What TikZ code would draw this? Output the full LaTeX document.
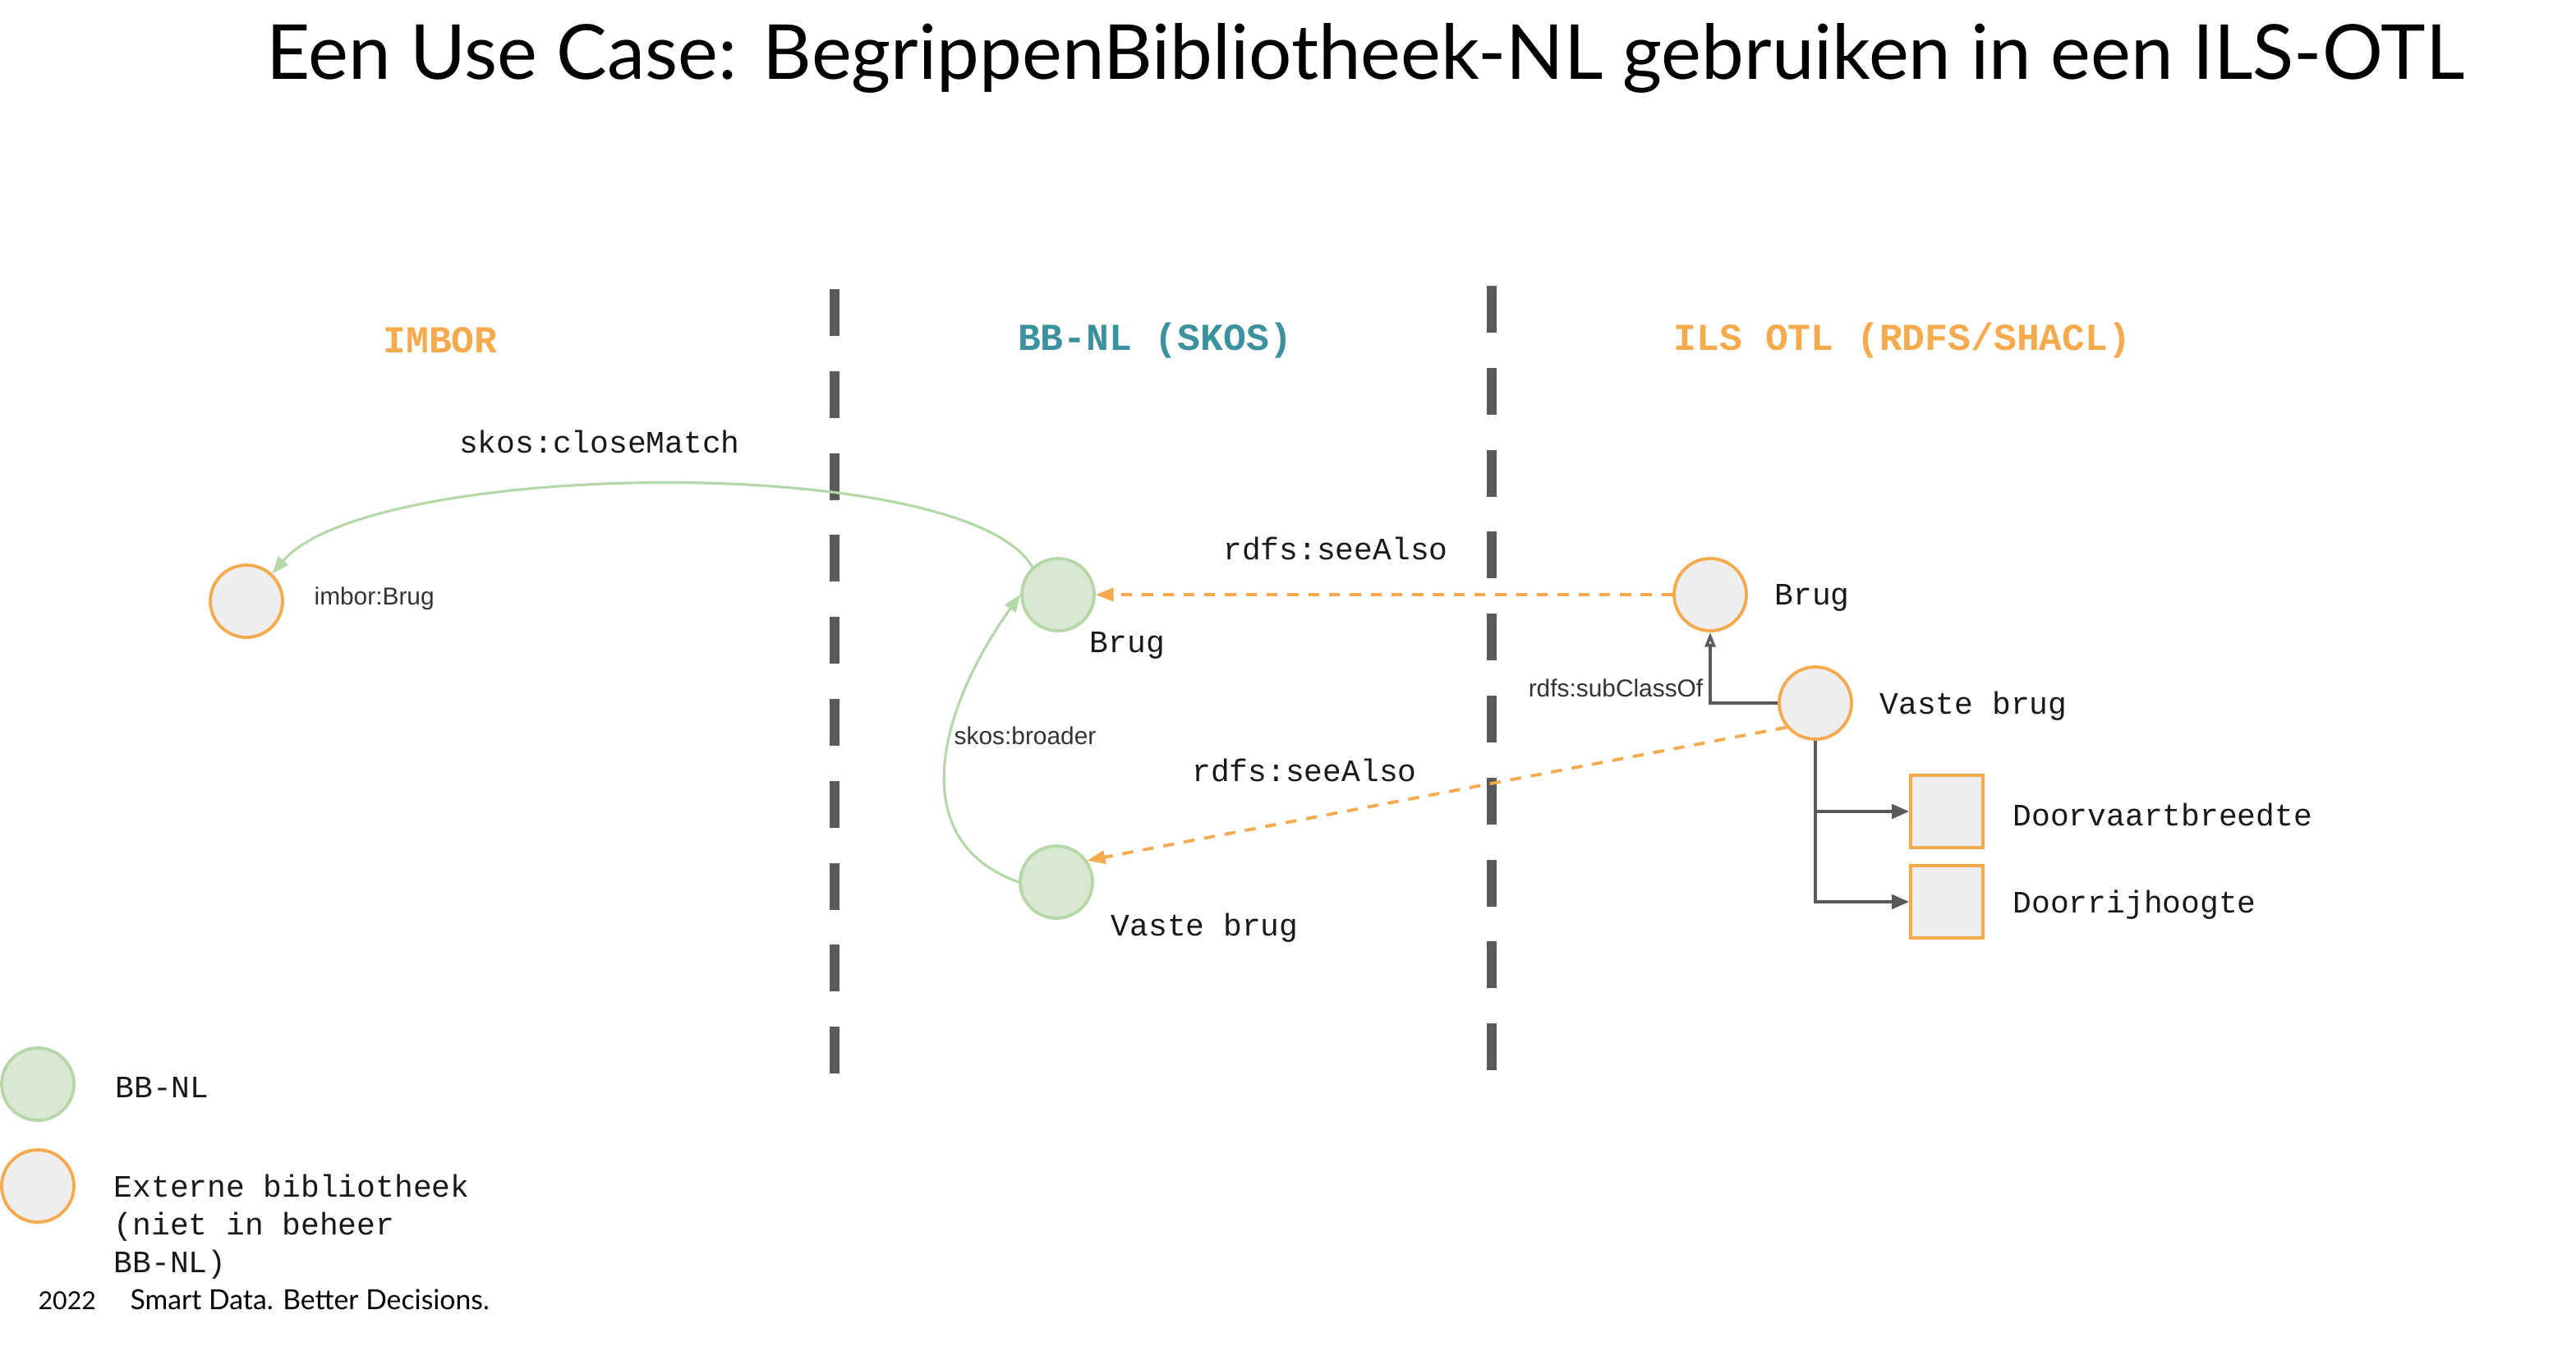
\documentclass[tikz,border=0pt]{standalone}
\usepackage{fontspec}
\setmainfont{Lato}
\setmonofont{Liberation Mono}
\newfontfamily\smallsans{Liberation Sans}
\usetikzlibrary{positioning, arrows.meta}

\definecolor{extorange}{HTML}{F6AA4E}
\definecolor{nodegrey}{HTML}{EEEEEE}
\definecolor{bbgreen}{HTML}{B6D7A8}
\definecolor{bbfill}{HTML}{D9E8D3}
\definecolor{headteal}{HTML}{3B919E}
\definecolor{darkline}{HTML}{5A5A5A}

\tikzstyle{base} = [minimum size=0.88cm, inner sep=0pt, line width=1.1pt]
\tikzstyle{ext} = [base, circle, draw=extorange, fill=nodegrey]
\tikzstyle{bbnl} = [base, circle, draw=bbgreen, fill=bbfill]
\tikzstyle{prop} = [base, rectangle, draw=extorange, fill=nodegrey]
\tikzstyle{monotext} = [font=\ttfamily\fontsize{10.8}{13}\selectfont, text=black!90, inner sep=0pt, yshift=-1pt]
\tikzstyle{smalltext} = [font=\smallsans\fontsize{8.5}{10}\selectfont, text=black!80, inner sep=0pt]
\tikzstyle{header} = [font=\ttfamily\bfseries\fontsize{13.2}{15}\selectfont, inner sep=0pt]
\tikzstyle{divider} = [darkline, line width=3.4pt, dash pattern=on 16.2pt off 12.2pt]
\tikzstyle{green_arrow} = [bbgreen, line width=0.9pt, -{Triangle[length=6pt, width=4.5pt]}]
\tikzstyle{see_arrow} = [extorange, line width=1.1pt, dash pattern=on 3.8pt off 3.4pt, -{Triangle[length=6.2pt, width=4.6pt]}]
\tikzstyle{sub_arrow} = [darkline, line width=1pt, -{Triangle[open, length=5pt, width=3.6pt]}]
\tikzstyle{has_arrow} = [darkline, line width=1pt, -{Triangle[length=6pt, width=5pt]}]

\begin{document}
\begin{tikzpicture}[x=0.02cm, y=-0.02cm]

\useasboundingbox (0,0) rectangle (1568,825);

\node (TITLE) [anchor=base, font=\fontsize{26.3}{30}\selectfont, inner sep=0pt] at (831,48)
    {Een Use Case: BegrippenBibliotheek-NL gebruiken in een ILS-OTL};

\node (HEAD_IMBOR) [header, text=extorange] at (268,207) {IMBOR};
\node (HEAD_BBNL) [header, text=headteal] at (703,207) {BB-NL (SKOS)};
\node (HEAD_OTL) [header, text=extorange] at (1158,207) {ILS OTL (RDFS/SHACL)};

\draw [divider] (508,176) -- (508,655);
\draw [divider] (908,174) -- (908,653);

\node (IMBOR_BRUG) [ext] at (150,366) {};
\node (BB_BRUG) [bbnl] at (644,362) {};
\node (BB_VASTE) [bbnl] at (643,537) {};
\node (OTL_BRUG) [ext] at (1041,362) {};
\node (OTL_VASTE) [ext] at (1105,428) {};
\node (OTL_BREEDTE) [prop] at (1185,494) {};
\node (OTL_HOOGTE) [prop] at (1185,549) {};

\node (IMBOR_BRUG_TEXT) [smalltext, right=0.36cm of IMBOR_BRUG, yshift=1pt] {imbor:Brug};
\node (BB_BRUG_TEXT) [monotext, anchor=west] at (663,391) {Brug};
\node (BB_VASTE_TEXT) [monotext, anchor=west] at (676,563) {Vaste brug};
\node (OTL_BRUG_TEXT) [monotext, right=0.32cm of OTL_BRUG] {Brug};
\node (OTL_VASTE_TEXT) [monotext, right=0.32cm of OTL_VASTE] {Vaste brug};
\node (OTL_BREEDTE_TEXT) [monotext, right=0.34cm of OTL_BREEDTE] {Doorvaartbreedte};
\node (OTL_HOOGTE_TEXT) [monotext, right=0.34cm of OTL_HOOGTE] {Doorrijhoogte};

\draw [green_arrow] (BB_BRUG.133) .. controls +(-40,-70) and +(60,-70) .. (IMBOR_BRUG.47);
\node (CLOSE_TEXT) [monotext] at (365,267) {skos:closeMatch};
\draw [green_arrow] (BB_VASTE.west) .. controls +(-70,-25) and +(-50,70) .. (BB_BRUG.west);
\node (BROADER_TEXT) [smalltext] at (624,448) {skos:broader};

\draw [see_arrow] (OTL_BRUG) -- (BB_BRUG);
\node (SEE_TEXT_1) [monotext] at (813,332) {rdfs:seeAlso};
\draw [see_arrow] (OTL_VASTE.220) -- (BB_VASTE.35);
\node (SEE_TEXT_2) [monotext] at (794,467) {rdfs:seeAlso};

\draw [sub_arrow] (OTL_VASTE) -| node[smalltext, anchor=south east, xshift=-2pt, yshift=1.5pt]{rdfs:subClassOf}
    (OTL_BRUG);
\draw [has_arrow] (OTL_VASTE) |- (OTL_BREEDTE);
\draw [has_arrow] (OTL_VASTE) |- (OTL_HOOGTE);

% legenda
\node (KEY_BBNL) [bbnl] at (23,660) {};
\node (KEY_EXT) [ext] at (23,722) {};
\node (KEY_BBNL_TEXT) [monotext, right=0.48cm of KEY_BBNL] {BB-NL};
\node (KEY_EXT_TEXT) [monotext, anchor=north west, align=left, font=\ttfamily\fontsize{10.8}{13}\selectfont] at (69,713)
    {Externe bibliotheek\\(niet in beheer\\BB-NL)};

\node (YEAR) [anchor=base west, inner sep=0pt, font=\fontsize{8.6}{11}\selectfont] at (23,797) {2022};
\node (SLOGAN) [anchor=base west, inner sep=0pt, font=\fontsize{9.6}{11}\selectfont] at (79,797) {Smart Data. Better Decisions.};

\end{tikzpicture}
\end{document}
